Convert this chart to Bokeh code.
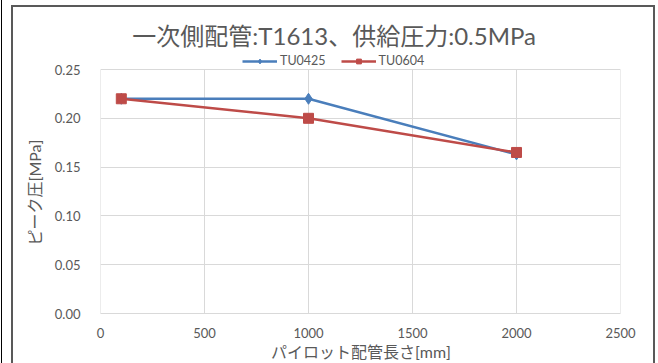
from bokeh.plotting import figure
from bokeh.layouts import column
from bokeh.models import (Label, Legend, LegendItem, FixedTicker, NumeralTickFormatter,
                          Range1d, Title)
from bokeh.embed import file_html
from bokeh.resources import INLINE

# Pilot pipe length [mm] and peak pressure [MPa]
lengths = [100, 1000, 2000]
tu0425 = [0.22, 0.22, 0.163]
tu0604 = [0.22, 0.20, 0.165]

series_names = ["TU0425", "TU0604"]
x_ticks = [0, 500, 1000, 1500, 2000, 2500]
y_ticks = [0.00, 0.05, 0.10, 0.15, 0.20, 0.25]

title_text = "一次側配管:T1613、供給圧力:0.5MPa"
x_title = "パイロット配管長さ[mm]"
y_title = "ピーク圧[MPa]"

FONT = "Lato, 'Noto Sans CJK JP'"
TEXT_GRAY = "#595959"
GRID = "#D9D9D9"
BLUE = "#4A7EBB"
RED = "#BE4B48"

# canvas geometry: the frame also covers the header band that holds title and legend
W, H = 640, 356
LEFT, RIGHT, BOTTOM = 87, 33, 50
HEADER = 62                      # pixels of header above the 0.25 gridline
frame_h = H - BOTTOM
y_top = y_ticks[-1] * frame_h / (frame_h - HEADER)

p = figure(width=W, height=H, output_backend="svg", toolbar_location=None,
           title=None,
           x_range=Range1d(x_ticks[0], x_ticks[-1]), y_range=Range1d(y_ticks[0], y_top),
           min_border_left=LEFT, min_border_right=RIGHT,
           min_border_top=0, min_border_bottom=BOTTOM,
           margin=(7, 0, 0, 11),
           styles={"outline": "2px solid #595959"})
p.outline_line_color = None
p.background_fill_color = "white"
p.border_fill_color = "white"

# grid: horizontal lines from the ygrid, vertical ones only up to the top tick
p.ygrid.ticker = FixedTicker(ticks=y_ticks)
p.ygrid.grid_line_color = GRID
p.xgrid.grid_line_color = None
p.segment(x0=x_ticks, y0=[y_ticks[0]] * len(x_ticks), x1=x_ticks,
          y1=[y_ticks[-1]] * len(x_ticks), line_color=GRID, line_width=1)

# axes
p.xaxis.ticker = FixedTicker(ticks=x_ticks)
p.yaxis.ticker = FixedTicker(ticks=y_ticks)
p.yaxis.formatter = NumeralTickFormatter(format="0.00")
for ax in (p.xaxis[0], p.yaxis[0]):
    ax.major_tick_line_color = None
    ax.minor_tick_line_color = None
    ax.major_label_text_color = TEXT_GRAY
    ax.major_label_text_font = FONT
    ax.major_label_text_font_size = "13px"
    ax.axis_label_text_color = TEXT_GRAY
    ax.axis_label_text_font = FONT
    ax.axis_label_text_font_size = "16px"
    ax.axis_label_text_font_style = "normal"
p.yaxis.axis_line_color = None
p.xaxis.axis_line_color = GRID
p.xaxis.major_label_standoff = 8
p.yaxis.major_label_standoff = 14
p.xaxis.axis_label = x_title
p.xaxis.axis_label_standoff = 1

# y-axis title, centred on the 0..0.25 part of the frame
p.add_layout(Title(text=y_title, align="left", offset=68, standoff=15,
                   text_font=FONT, text_font_size="16px", text_font_style="normal",
                   text_color=TEXT_GRAY), "left")

# series
l1 = p.line(lengths, tu0425, line_color=BLUE, line_width=2.5)
m1 = p.scatter(lengths, tu0425, marker="diamond", size=11, fill_color=BLUE, line_color=BLUE)
l2 = p.line(lengths, tu0604, line_color=RED, line_width=2.5)
m2 = p.scatter(lengths, tu0604, marker="square", size=10, fill_color=RED, line_color=RED)

legend = Legend(items=[LegendItem(label=series_names[0], renderers=[l1, m1]),
                       LegendItem(label=series_names[1], renderers=[l2, m2])],
                location=(142, frame_h - 61), orientation="horizontal",
                border_line_color=None, background_fill_alpha=0,
                label_text_font=FONT, label_text_font_size="12.5px",
                label_text_color=TEXT_GRAY, glyph_width=35, glyph_height=12,
                label_height=12, label_standoff=3, spacing=15, padding=0, margin=0)
p.add_layout(legend, "center")

p.add_layout(Label(x=320, y=28, x_units="canvas", y_units="canvas", text=title_text,
                   text_align="center", text_baseline="middle",
                   text_font=FONT, text_font_size="24px", text_color=TEXT_GRAY))

page = column(p, styles={"border-left": "1px solid black", "margin-left": "1px"})

open("out.html", "w").write(file_html(page, INLINE))
